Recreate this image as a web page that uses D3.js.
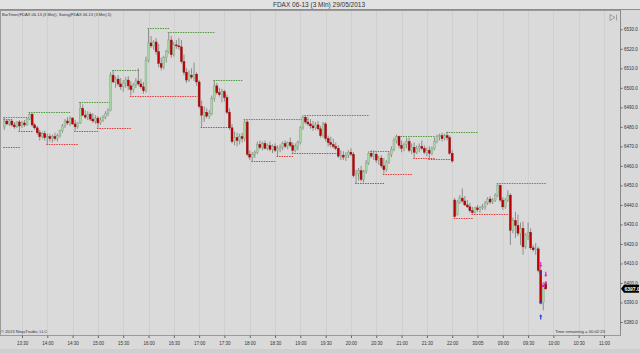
<!DOCTYPE html>
<html>
<head>
<meta charset="utf-8">
<script src="https://cdn.jsdelivr.net/npm/d3@7"></script>
<style>
  body { margin: 0; background: #d9d9d9; }
  svg { display: block; font-family: "Liberation Sans", Arial, sans-serif; }
</style>
</head>
<body>
<div id="chart-area"></div>
<script>
// FDAX 06-13, 3 min bars, 29/05 13:09 -> 30/05 09:51 (session gap removed)
var opens = [
  6480.0, 6483.0, 6481.5, 6483.0, 6481.0, 6480.0, 6482.5, 6480.5, 6482.0, 6481.0,
  6484.0, 6486.5, 6481.0, 6479.5, 6477.0, 6475.0, 6476.5, 6474.5, 6475.0, 6474.0,
  6475.0, 6474.0, 6475.5, 6478.0, 6480.5, 6483.0, 6482.0, 6484.5, 6481.5, 6480.0,
  6482.0, 6489.5, 6486.0, 6485.0, 6486.5, 6484.0, 6483.0, 6484.5, 6482.0, 6483.5,
  6485.0, 6487.0, 6488.5, 6506.5, 6503.0, 6504.5, 6502.0, 6500.5, 6502.5, 6504.0,
  6501.0, 6499.0, 6501.5, 6503.5, 6502.0, 6500.5, 6498.5, 6514.0, 6523.0, 6521.5,
  6523.5, 6518.5, 6512.5, 6510.5, 6515.5, 6518.5, 6524.5, 6517.0, 6522.0, 6521.5,
  6521.0, 6513.5, 6508.0, 6504.0, 6506.5, 6505.5, 6507.0, 6503.0, 6490.5, 6486.0,
  6487.5, 6485.5, 6487.0, 6494.5, 6501.0, 6497.5, 6496.5, 6498.0, 6495.0, 6487.5,
  6479.5, 6472.5, 6474.5, 6473.0, 6475.0, 6474.0, 6482.5, 6466.0, 6464.5, 6466.0,
  6467.0, 6471.0, 6469.5, 6471.5, 6469.0, 6470.5, 6468.5, 6470.0, 6468.0, 6469.0,
  6469.5, 6471.5, 6470.0, 6472.0, 6470.5, 6468.0, 6470.0, 6472.0, 6479.5, 6485.0,
  6482.5, 6481.5, 6480.5, 6479.5, 6481.0, 6479.0, 6475.5, 6481.5, 6474.0, 6472.0,
  6471.0, 6470.0, 6469.0, 6465.0, 6465.5, 6464.5, 6465.5, 6467.0, 6466.0, 6455.0,
  6456.0, 6457.5, 6453.0, 6457.0, 6461.5, 6466.5, 6465.0, 6466.0, 6463.0, 6464.0,
  6460.0, 6458.0, 6462.0, 6466.0, 6468.5, 6473.0, 6475.0, 6470.5, 6469.0, 6471.0,
  6472.5, 6468.0, 6469.5, 6467.0, 6469.0, 6470.0, 6469.0, 6467.0, 6468.0, 6466.5,
  6469.0, 6472.5, 6475.0, 6475.5, 6474.0, 6475.5, 6474.5, 6466.5,
  6442.5, 6435.0, 6441.5, 6443.5, 6442.0, 6440.0, 6439.0, 6437.0, 6436.0, 6438.5,
  6437.5, 6438.5, 6439.0, 6441.0, 6443.0, 6441.5, 6442.5, 6445.0, 6450.0, 6442.5,
  6439.0, 6442.5, 6445.0, 6427.0, 6432.0, 6429.5, 6425.5, 6428.0, 6418.5, 6424.5,
  6426.0, 6418.0, 6417.0, 6417.5, 6406.5, 6390.0, 6399.5
];
var highs = [
  6485.0, 6484.0, 6483.5, 6483.5, 6482.5, 6483.0, 6483.5, 6483.0, 6483.5, 6484.5,
  6487.5, 6487.0, 6482.0, 6480.5, 6478.5, 6477.5, 6478.0, 6476.5, 6476.5, 6476.0,
  6477.0, 6476.5, 6478.5, 6481.5, 6484.0, 6485.0, 6485.5, 6485.0, 6483.5, 6482.5,
  6492.5, 6491.5, 6488.5, 6488.0, 6487.5, 6487.0, 6486.0, 6485.5, 6485.0, 6486.0,
  6488.0, 6489.5, 6508.0, 6509.0, 6506.0, 6506.5, 6505.0, 6504.0, 6505.5, 6506.0,
  6503.5, 6502.5, 6505.0, 6510.0, 6504.5, 6503.0, 6516.0, 6530.5, 6526.5, 6524.5,
  6525.5, 6522.5, 6515.5, 6516.5, 6519.5, 6528.5, 6526.5, 6523.5, 6524.5, 6525.5,
  6524.5, 6517.0, 6510.0, 6509.0, 6510.0, 6513.0, 6508.0, 6504.0, 6493.5, 6490.5,
  6489.5, 6488.5, 6496.0, 6504.0, 6502.5, 6500.0, 6499.5, 6499.0, 6496.5, 6489.5,
  6481.5, 6477.5, 6477.0, 6476.5, 6477.0, 6484.0, 6483.5, 6468.0, 6467.0, 6468.0,
  6472.5, 6473.0, 6472.5, 6473.0, 6471.5, 6472.5, 6471.0, 6471.5, 6470.5, 6471.0,
  6472.5, 6473.0, 6472.5, 6474.5, 6472.0, 6471.5, 6473.0, 6480.5, 6486.0, 6485.5,
  6485.0, 6484.0, 6483.0, 6482.5, 6483.0, 6480.5, 6482.5, 6482.5, 6475.5, 6475.0,
  6474.0, 6472.0, 6470.5, 6468.0, 6467.5, 6467.0, 6468.0, 6469.0, 6467.0, 6458.0,
  6459.0, 6460.0, 6458.0, 6463.0, 6467.5, 6468.0, 6468.0, 6467.0, 6465.0, 6465.5,
  6464.0, 6463.0, 6467.0, 6470.0, 6474.5, 6476.0, 6475.5, 6473.0, 6472.0, 6474.5,
  6474.5, 6471.5, 6472.0, 6470.5, 6471.5, 6473.0, 6470.5, 6469.5, 6470.0, 6470.0,
  6474.5, 6476.0, 6476.5, 6477.0, 6476.5, 6477.5, 6475.5, 6468.0,
  6443.5, 6442.5, 6445.0, 6448.5, 6444.5, 6442.5, 6441.0, 6439.0, 6439.0, 6440.0,
  6439.5, 6440.5, 6442.0, 6444.0, 6444.5, 6443.5, 6446.0, 6451.0, 6450.5, 6444.0,
  6443.5, 6447.5, 6446.0, 6433.5, 6436.5, 6435.0, 6431.0, 6431.5, 6425.5, 6431.0,
  6428.0, 6419.5, 6420.5, 6418.5, 6408.5, 6400.5, 6401.0
];
var lows = [
  6478.5, 6481.0, 6480.5, 6480.0, 6479.0, 6479.5, 6478.0, 6479.5, 6480.0, 6480.5,
  6483.5, 6480.0, 6478.5, 6476.0, 6473.0, 6474.0, 6473.0, 6471.0, 6472.5, 6472.0,
  6473.0, 6472.5, 6474.5, 6477.0, 6479.5, 6481.0, 6480.5, 6481.0, 6478.0, 6479.0,
  6481.5, 6485.5, 6484.0, 6483.5, 6483.0, 6482.0, 6481.5, 6479.5, 6481.0, 6482.5,
  6484.0, 6485.5, 6488.0, 6502.5, 6500.0, 6501.0, 6499.0, 6498.0, 6500.0, 6499.0,
  6496.0, 6497.5, 6500.0, 6501.0, 6499.5, 6497.0, 6497.5, 6513.0, 6520.5, 6519.5,
  6517.0, 6510.5, 6509.0, 6509.5, 6513.0, 6517.5, 6515.5, 6516.0, 6520.0, 6519.5,
  6512.5, 6506.5, 6502.5, 6503.0, 6504.5, 6503.5, 6501.0, 6489.5, 6480.0, 6482.5,
  6484.5, 6484.0, 6486.0, 6493.0, 6496.5, 6495.5, 6492.5, 6493.0, 6486.5, 6478.5,
  6471.5, 6470.5, 6470.0, 6471.0, 6472.0, 6472.5, 6465.0, 6463.0, 6462.5, 6464.0,
  6466.0, 6468.5, 6468.0, 6468.5, 6468.0, 6467.5, 6466.5, 6467.0, 6465.0, 6467.0,
  6468.0, 6469.0, 6468.5, 6469.5, 6466.5, 6467.0, 6468.0, 6471.0, 6478.5, 6481.5,
  6480.5, 6479.0, 6478.0, 6478.5, 6478.0, 6474.5, 6474.5, 6472.5, 6470.0, 6469.5,
  6469.0, 6468.0, 6464.0, 6463.0, 6463.0, 6462.5, 6464.0, 6465.0, 6454.0, 6451.0,
  6452.5, 6452.0, 6451.5, 6456.0, 6460.5, 6464.0, 6463.0, 6461.5, 6460.5, 6459.0,
  6456.0, 6457.0, 6461.0, 6464.5, 6467.5, 6471.5, 6469.0, 6467.0, 6467.5, 6469.0,
  6467.0, 6466.0, 6464.0, 6466.0, 6467.0, 6468.0, 6466.0, 6465.0, 6463.5, 6465.5,
  6468.0, 6471.5, 6473.0, 6472.5, 6473.0, 6473.0, 6465.5, 6461.5,
  6433.5, 6434.5, 6440.5, 6441.0, 6439.5, 6438.5, 6436.0, 6435.5, 6435.5, 6436.5,
  6436.0, 6437.5, 6437.5, 6440.0, 6440.5, 6440.5, 6441.5, 6444.0, 6441.5, 6437.5,
  6438.0, 6441.5, 6419.5, 6425.5, 6423.0, 6424.0, 6419.5, 6414.5, 6417.5, 6422.0,
  6417.0, 6416.0, 6414.5, 6405.5, 6389.0, 6386.0, 6396.5
];
var closes = [
  6483.0, 6481.5, 6483.0, 6481.0, 6480.0, 6482.5, 6480.5, 6482.0, 6481.0, 6484.0,
  6486.5, 6481.0, 6479.5, 6477.0, 6475.0, 6476.5, 6474.5, 6475.0, 6474.0, 6475.0,
  6474.0, 6475.5, 6478.0, 6480.5, 6483.0, 6482.0, 6484.5, 6481.5, 6480.0, 6482.0,
  6489.5, 6486.0, 6485.0, 6486.5, 6484.0, 6483.0, 6484.5, 6482.0, 6483.5, 6485.0,
  6487.0, 6488.5, 6506.5, 6503.0, 6504.5, 6502.0, 6500.5, 6502.5, 6504.0, 6501.0,
  6499.0, 6501.5, 6503.5, 6502.0, 6500.5, 6498.5, 6514.0, 6523.0, 6521.5, 6523.5,
  6518.5, 6512.5, 6510.5, 6515.5, 6518.5, 6524.5, 6517.0, 6522.0, 6521.5, 6521.0,
  6513.5, 6508.0, 6504.0, 6506.5, 6505.5, 6507.0, 6503.0, 6490.5, 6486.0, 6487.5,
  6485.5, 6487.0, 6494.5, 6501.0, 6497.5, 6496.5, 6498.0, 6495.0, 6487.5, 6479.5,
  6472.5, 6474.5, 6473.0, 6475.0, 6474.0, 6482.5, 6466.0, 6464.5, 6466.0, 6467.0,
  6471.0, 6469.5, 6471.5, 6469.0, 6470.5, 6468.5, 6470.0, 6468.0, 6469.0, 6469.5,
  6471.5, 6470.0, 6472.0, 6470.5, 6468.0, 6470.0, 6472.0, 6479.5, 6485.0, 6482.5,
  6481.5, 6480.5, 6479.5, 6481.0, 6479.0, 6475.5, 6481.5, 6474.0, 6472.0, 6471.0,
  6470.0, 6469.0, 6465.0, 6465.5, 6464.5, 6465.5, 6467.0, 6466.0, 6455.0, 6456.0,
  6457.5, 6453.0, 6457.0, 6461.5, 6466.5, 6465.0, 6466.0, 6463.0, 6464.0, 6460.0,
  6458.0, 6462.0, 6466.0, 6468.5, 6473.0, 6475.0, 6470.5, 6469.0, 6471.0, 6472.5,
  6468.0, 6469.5, 6467.0, 6469.0, 6470.0, 6469.0, 6467.0, 6468.0, 6466.5, 6469.0,
  6472.5, 6475.0, 6475.5, 6474.0, 6475.5, 6474.5, 6466.5, 6462.5,
  6434.0, 6441.5, 6443.5, 6442.0, 6440.0, 6439.0, 6437.0, 6436.0, 6438.5, 6437.5,
  6438.5, 6439.0, 6441.0, 6443.0, 6441.5, 6442.5, 6445.0, 6450.0, 6442.5, 6439.0,
  6442.5, 6445.0, 6427.0, 6432.0, 6429.5, 6425.5, 6428.0, 6418.5, 6424.5, 6426.0,
  6418.0, 6417.0, 6417.5, 6406.5, 6390.0, 6399.5, 6397.0
];

// swing levels: [first bar, last bar, price]
var swingHighs = [
  [0, 10, 6485.0], [0, 3, 6484.0], [10, 26, 6487.5], [30, 42, 6492.5],
  [43, 53, 6509.0], [57, 65, 6530.5], [65, 83, 6528.5], [83, 94, 6504.0],
  [95, 120, 6484.0], [119, 144, 6486.0], [145, 153, 6467.5], [156, 170, 6475.5],
  [175, 187, 6477.5], [195, 214, 6451.0]
];
var swingLows = [
  [0, 6, 6469.5], [6, 11, 6478.0], [17, 29, 6471.0], [28, 37, 6478.0],
  [37, 50, 6479.5], [50, 76, 6496.0], [78, 89, 6480.0], [98, 107, 6462.5],
  [108, 114, 6465.0], [114, 132, 6466.5], [139, 150, 6451.0], [150, 161, 6456.0],
  [162, 170, 6464.0], [168, 177, 6463.5], [178, 185, 6433.5], [185, 199, 6435.5]
];

// signal markers near the last bars
var downArrows = [[212, 6408.0], [214, 6403.0]];
var upArrows = [[212, 6384.0]];
var blueDots = [[212, 6405.5], [212, 6390.0]];
var pinkDots = [[213, 6398.5], [214, 6400.0]];

var tickBars = [7, 17, 27, 37, 47, 57, 67, 77, 87, 97, 107, 117, 127, 137, 147, 157, 167, 177,
                187, 197, 207, 217, 227, 237];
var tickLabels = ["13:30", "14:00", "14:30", "15:00", "15:30", "16:00", "16:30", "17:00", "17:30",
                  "18:00", "18:30", "19:00", "19:30", "20:00", "20:30", "21:00", "21:30", "22:00",
                  "30/05", "09:00", "09:30", "10:00", "10:30", "11:00"];
var priceTicks = [6380, 6390, 6400, 6410, 6420, 6430, 6440, 6450, 6460, 6470, 6480, 6490,
                  6500, 6510, 6520, 6530];

var W = 640, H = 353;
var plotRight = 620, plotTop = 10, plotBottom = 335;

var svg = d3.select("#chart-area").append("svg")
    .attr("width", W)
    .attr("height", H);

svg.append("rect").attr("width", W).attr("height", H).attr("fill", "#d9d9d9");
svg.append("rect").attr("width", W).attr("height", 9).attr("fill", "#e2e2e2");
svg.append("line").attr("x1", 0).attr("x2", W).attr("y1", 9.5).attr("y2", 9.5)
    .attr("stroke", "#8c8c8c");

svg.append("text")
    .attr("x", 319).attr("y", 7)
    .attr("text-anchor", "middle")
    .attr("font-size", 6.5)
    .attr("fill", "#333")
    .text("FDAX 06-13 (3 Min)  29/05/2013");

var x = d3.scaleLinear().domain([7, 237]).range([22, 604]);
var y = d3.scaleLinear().domain([6380, 6530]).range([322, 29.3]);

// plot frame
svg.append("rect")
    .attr("x", 0.5).attr("y", plotTop + 0.5)
    .attr("width", plotRight).attr("height", plotBottom - plotTop)
    .attr("fill", "#dadada")
    .attr("stroke", "#9a9a9a");

// faint grid
svg.append("g").selectAll("line").data(tickBars).join("line")
    .attr("x1", d => Math.round(x(d)) + 0.5).attr("x2", d => Math.round(x(d)) + 0.5)
    .attr("y1", plotTop + 1).attr("y2", plotBottom)
    .attr("stroke", "#d0d0d0");

svg.append("text")
    .attr("x", 2).attr("y", 15.5)
    .attr("font-size", 4)
    .attr("fill", "#333")
    .text("BarTimer(FDAX 06-13 (3 Min)), Swing(FDAX 06-13 (3 Min),5)");

var plot = svg.append("g");

// swing levels
plot.selectAll(".sh").data(swingHighs).join("line")
    .attr("x1", d => x(d[0]) - 1).attr("x2", d => x(d[1]) + 1)
    .attr("y1", d => Math.round(y(d[2])) + 0.5).attr("y2", d => Math.round(y(d[2])) + 0.5)
    .attr("stroke", "#4f9a3c")
    .attr("stroke-dasharray", "1.5,1");

plot.selectAll(".sl").data(swingLows).join("line")
    .attr("x1", d => x(d[0]) - 1).attr("x2", d => x(d[1]) + 1)
    .attr("y1", d => Math.round(y(d[2])) + 0.5).attr("y2", d => Math.round(y(d[2])) + 0.5)
    .attr("stroke", "#e33a3a")
    .attr("stroke-dasharray", "1.5,1");

// candles
var idx = d3.range(closes.length);
plot.selectAll(".wick").data(idx).join("line")
    .attr("x1", i => x(i)).attr("x2", i => x(i))
    .attr("y1", i => y(highs[i])).attr("y2", i => y(lows[i]))
    .attr("stroke", "#858585")
    .attr("stroke-width", 0.9);

plot.selectAll(".body").data(idx).join("rect")
    .attr("x", i => x(i) - 1)
    .attr("width", 2)
    .attr("y", i => y(Math.max(opens[i], closes[i])))
    .attr("height", i => Math.max(0.6, Math.abs(y(opens[i]) - y(closes[i]))))
    .attr("fill", i => closes[i] >= opens[i] ? "#a3d8a0" : "#c00000")
    .attr("stroke", i => closes[i] >= opens[i] ? "#8c9a8a" : "#8a1010")
    .attr("stroke-width", 0.4);

// markers
plot.selectAll(".dn").data(downArrows).join("path")
    .attr("d", d => {
      var cx = x(d[0]), ty = y(d[1]);
      return "M" + cx + "," + ty + "l-1.6,-2.4h1v-3h1.2v3h1z";
    })
    .attr("fill", "#e020c0");

plot.selectAll(".up").data(upArrows).join("path")
    .attr("d", d => {
      var cx = x(d[0]), ty = y(d[1]);
      return "M" + cx + "," + ty + "l-1.6,2.4h1v3h1.2v-3h1z";
    })
    .attr("fill", "#2040e0");

plot.selectAll(".bd").data(blueDots).join("rect")
    .attr("x", d => x(d[0]) - 1.2).attr("y", d => y(d[1]) - 1.2)
    .attr("width", 2.4).attr("height", 2.4)
    .attr("fill", "#2a3ad0");

plot.selectAll(".pd").data(pinkDots).join("rect")
    .attr("x", d => x(d[0]) - 1.2).attr("y", d => y(d[1]) - 1.2)
    .attr("width", 2.4).attr("height", 2.4)
    .attr("fill", "#e020c0");

// x axis
var xAxis = svg.append("g")
    .attr("transform", "translate(0," + (plotBottom + 0.5) + ")")
    .call(d3.axisBottom(x).tickValues(tickBars)
      .tickFormat((d, i) => tickLabels[i]).tickSize(2.5).tickSizeOuter(0));
xAxis.select(".domain").remove();
xAxis.selectAll("line").attr("stroke", "#666");
xAxis.selectAll("text").attr("font-size", 4.5).attr("fill", "#333").attr("dy", "0.9em");

// y axis
var yAxis = svg.append("g")
    .attr("transform", "translate(" + (plotRight + 0.5) + ",0)")
    .call(d3.axisRight(y).tickValues(priceTicks).tickFormat(d3.format(".1f"))
      .tickSize(2).tickPadding(1.5).tickSizeOuter(0));
yAxis.select(".domain").attr("d", "M0," + plotTop + "V" + plotBottom).attr("stroke", "#8a8a8a");
yAxis.selectAll("line").attr("stroke", "#666");
yAxis.selectAll("text").attr("font-size", 4.5).attr("fill", "#333");

// last price flag
var lastY = y(closes[closes.length - 1]);
svg.append("path")
    .attr("d", "M" + (plotRight + 1) + "," + lastY + "l3,-4h15v8h-15z")
    .attr("fill", "#000");
svg.append("text")
    .attr("x", plotRight + 4.5).attr("y", lastY + 1.8)
    .attr("font-size", 5)
    .attr("font-weight", "bold")
    .attr("fill", "#fff")
    .text(d3.format(".1f")(closes[closes.length - 1]));

// corner texts
svg.append("text")
    .attr("x", 1).attr("y", 332.5)
    .attr("font-size", 4.2).attr("fill", "#333")
    .text("\u00a9 2013 NinjaTrader, LLC");
svg.append("text")
    .attr("x", 605).attr("y", 332.5)
    .attr("text-anchor", "end")
    .attr("font-size", 4.2).attr("fill", "#333")
    .text("Time remaining = 00:02:23");

// small button top right
svg.append("path")
    .attr("d", "M610,14.5l5,3l-5,3z M616.5,14.5v6")
    .attr("fill", "none").attr("stroke", "#777").attr("stroke-width", 0.6);

// bottom strip
svg.append("rect").attr("x", 0).attr("y", 349).attr("width", W).attr("height", 4)
    .attr("fill", "#cfcfcf");
</script>
</body>
</html>
